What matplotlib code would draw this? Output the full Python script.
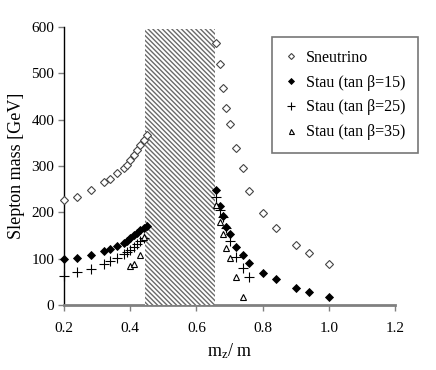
import matplotlib
matplotlib.use("Agg")
import matplotlib.pyplot as plt
import matplotlib.patches as patches
from matplotlib import rcParams

rcParams['font.family'] = 'Liberation Serif'
rcParams['mathtext.fontset'] = 'custom'
rcParams['mathtext.rm'] = 'Liberation Serif'
rcParams['hatch.linewidth'] = 1.0

# --- data
x_left = [0.20, 0.24, 0.28, 0.32, 0.34, 0.36, 0.38, 0.39, 0.40, 0.41, 0.42, 0.43, 0.44, 0.45]
x_right = [0.66, 0.67, 0.68, 0.69, 0.70, 0.72, 0.74, 0.76, 0.80, 0.84, 0.90, 0.94, 1.00]

sneu_left = [227, 233, 247, 265, 271, 285, 296, 302, 313, 323, 334, 345, 355, 366]
sneu_right = [565, 520, 468, 425, 391, 338, 296, 245, 198, 166, 130, 112, 88]

stau15_left = [98, 101, 107, 117, 121, 127, 133, 138, 144, 150, 155, 161, 166, 171]
stau15_right = [247, 214, 191, 169, 153, 126, 108, 91, 68, 56, 36, 27, 17]

x25_left = [0.20, 0.24, 0.28, 0.32, 0.34, 0.36, 0.38, 0.39, 0.40, 0.41, 0.42, 0.43, 0.44]
stau25_left = [63, 70, 77, 88, 94, 102, 110, 114, 119, 124, 132, 138, 144]
x25_right = [0.66, 0.67, 0.68, 0.69, 0.70, 0.72, 0.74, 0.76]
stau25_right = [234, 205, 190, 165, 137, 104, 80, 61]

x35_left = [0.40, 0.41, 0.43, 0.44]
stau35_left = [84, 88, 108, 146]
x35_right = [0.66, 0.67, 0.68, 0.69, 0.70, 0.72, 0.74]
stau35_right = [216, 178, 152, 122, 101, 61, 18]

band = (0.445, 0.655, 595)

fig = plt.figure(figsize=(4.36, 3.70), dpi=100)
ax = fig.add_axes([0.147, 0.176, 0.759, 0.751])

# hatched excluded region
rect = patches.Rectangle(
    (band[0], 0), band[1] - band[0], band[2],
    facecolor="white", edgecolor="#6a6a6a", hatch="\\\\\\\\\\\\\\", lw=0, zorder=3
)
ax.add_patch(rect)

ax.plot(x_left + x_right, sneu_left + sneu_right, ls="none", marker="D", ms=3.8,
        mfc="white", mec="#444444", mew=0.8, label="Sneutrino", zorder=4, clip_on=False)
ax.plot(x_left + x_right, stau15_left + stau15_right, ls="none", marker="D", ms=3.8,
        mfc="black", mec="black", mew=0.6, label="Stau (tan β=15)", zorder=4, clip_on=False)
ax.plot(x25_left + x25_right, stau25_left + stau25_right, ls="none", marker="+", ms=6.5,
        color="black", mew=0.8, label="Stau (tan β=25)", zorder=4, clip_on=False)
ax.plot(x35_left + x35_right, stau35_left + stau35_right, ls="none", marker="^", ms=4.5,
        mfc="white", mec="black", mew=0.8, label="Stau (tan β=35)", zorder=4, clip_on=False)

ax.set_xlim(0.2, 1.2)
ax.set_ylim(0, 600)
ax.set_xticks([0.2, 0.4, 0.6, 0.8, 1.0, 1.2])
ax.set_xticklabels(["0.2", "0.4", "0.6", "0.8", "1.0", "1.2"])
ax.set_yticks(range(0, 601, 100))

ax.spines["top"].set_visible(False)
ax.spines["right"].set_visible(False)
ax.spines["bottom"].set_color("#808080")
ax.spines["bottom"].set_linewidth(2)
ax.spines["left"].set_color("black")
ax.spines["left"].set_linewidth(1)
ax.tick_params(axis="x", direction="out", length=4, width=1, color="#808080",
               labelsize=11, pad=8)
ax.tick_params(axis="y", direction="out", length=4, width=1, color="#808080",
               labelsize=11, pad=3)

ax.set_xlabel(r"$\mathregular{m_z}$/ m", fontsize=13, labelpad=5)
ax.set_ylabel("Slepton mass [GeV]", fontsize=13, labelpad=5)

leg = ax.legend(loc="upper right", bbox_to_anchor=(418 / 436, 1 - 37 / 370),
                bbox_transform=fig.transFigure, fontsize=11.5, frameon=True,
                fancybox=False, handlelength=0.8, handletextpad=0.5,
                labelspacing=0.55, borderpad=0.8, borderaxespad=0,
                markerscale=0.8)
leg.get_frame().set_edgecolor("#555555")
leg.get_frame().set_linewidth(1.2)

plt.savefig("out.png", dpi=100, facecolor="white")
